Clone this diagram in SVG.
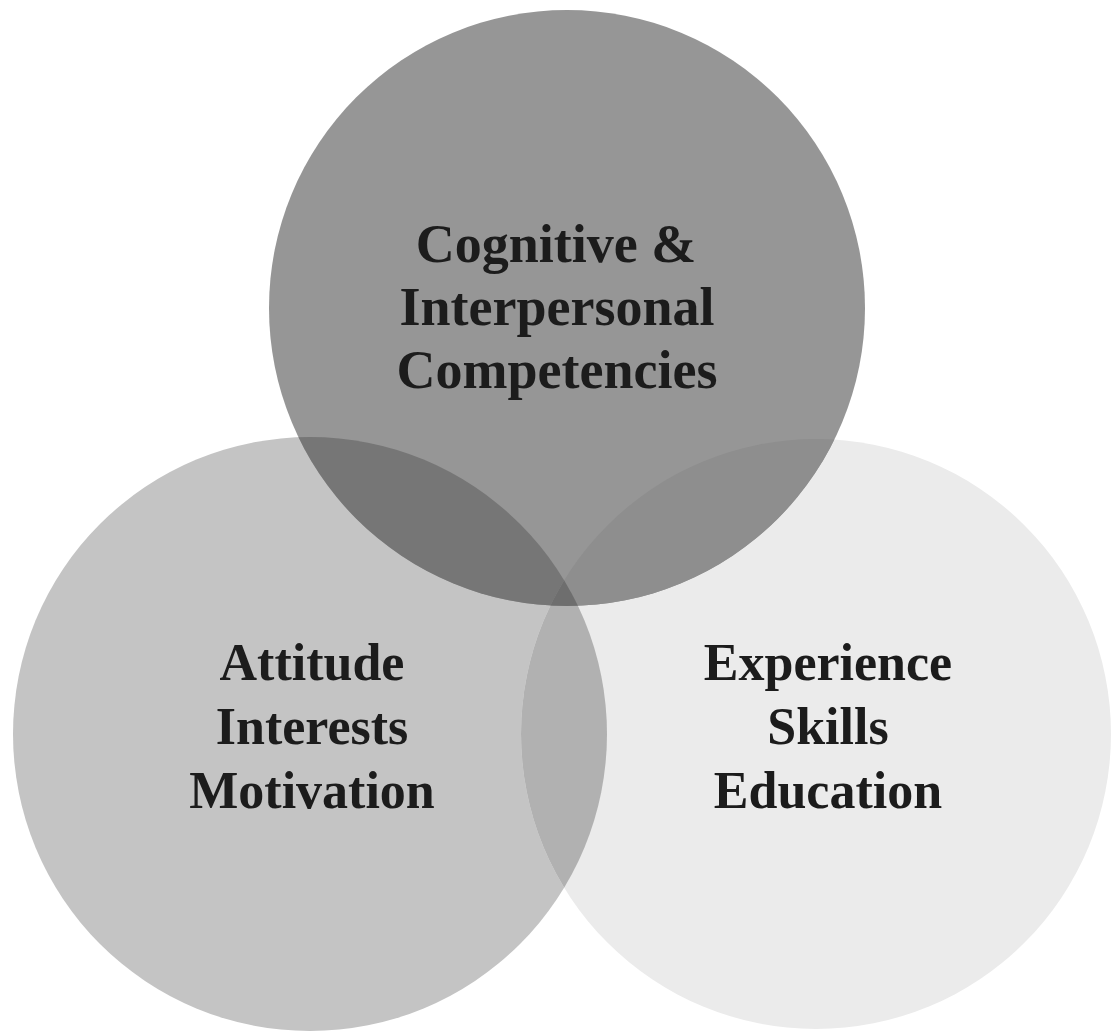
<svg xmlns="http://www.w3.org/2000/svg" width="1111" height="1033" viewBox="0 0 1111 1033">
  <style>
    .label { font-family: "Liberation Serif", "DejaVu Serif", serif; font-weight: bold; font-size: 54px; fill: #1c1c1c; text-anchor: middle; }
    .small { font-size: 52px; }
  </style>
  <defs>
    <circle id="cTop" cx="567" cy="308" r="298"/>
    <circle id="cLeft" cx="310" cy="734" r="297"/>
    <circle id="cRight" cx="816" cy="734" r="295"/>
    <clipPath id="clipTop"><use href="#cTop"/></clipPath>
    <clipPath id="clipLeft"><use href="#cLeft"/></clipPath>
    <clipPath id="clipRight"><use href="#cRight"/></clipPath>
  </defs>
  <rect width="1111" height="1033" fill="#ffffff"/>

  <!-- base circles -->
  <g id="circle-left"><use href="#cLeft" fill="#c4c4c4"/></g>
  <g id="circle-right"><use href="#cRight" fill="#ebebeb"/></g>
  <g id="circle-top"><use href="#cTop" fill="#969696"/></g>

  <!-- pairwise and triple overlaps -->
  <g id="overlaps">
    <g clip-path="url(#clipLeft)"><use href="#cRight" fill="#b1b1b1"/></g>
    <g clip-path="url(#clipTop)"><use href="#cLeft" fill="#767676"/></g>
    <g clip-path="url(#clipTop)"><use href="#cRight" fill="#8e8e8e"/></g>
    <g clip-path="url(#clipTop)"><g clip-path="url(#clipLeft)"><use href="#cRight" fill="#6e6e6e"/></g></g>
  </g>

  <g id="label-top">
    <text class="label" x="556" y="262">Cognitive &amp;</text>
    <text class="label" x="557" y="325">Interpersonal</text>
    <text class="label" x="557" y="388">Competencies</text>
  </g>
  <g id="label-left">
    <text class="label small" x="312" y="680">Attitude</text>
    <text class="label small" x="312" y="744">Interests</text>
    <text class="label small" x="312" y="808">Motivation</text>
  </g>
  <g id="label-right">
    <text class="label small" x="828" y="680">Experience</text>
    <text class="label small" x="828" y="744">Skills</text>
    <text class="label small" x="828" y="808">Education</text>
  </g>
</svg>
